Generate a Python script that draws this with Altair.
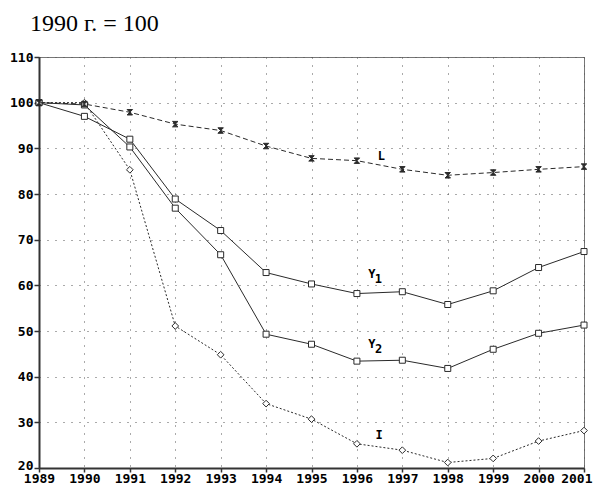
import altair as alt
import pandas as pd

years = list(range(1989, 2002))
series_L = [100, 99.7, 97.9, 95.3, 93.9, 90.5, 87.8, 87.3, 85.4, 84.1, 84.7, 85.4, 86.0]
series_Y1 = [100, 97.0, 92.0, 78.9, 72.0, 62.8, 60.3, 58.2, 58.6, 55.8, 58.8, 63.9, 67.4]
series_Y2 = [100, 99.5, 90.3, 76.9, 66.7, 49.3, 47.1, 43.4, 43.6, 41.8, 46.0, 49.5, 51.3]
series_I = [100, 100, 85.3, 51.1, 44.8, 34.1, 30.7, 25.3, 23.9, 21.2, 22.1, 25.9, 28.2]
y_ticks = list(range(20, 111, 10))

label_text = ["L", "Y", "1", "Y", "2", "I"]
label_year = [1996.54, 1996.33, 1996.47, 1996.33, 1996.48, 1996.49]
label_value = [88.4, 62.55, 61.4, 47.2, 46.0, 27.2]

rows = []
for name, vals in [("L", series_L), ("Y1", series_Y1), ("Y2", series_Y2), ("I", series_I)]:
    for yr, v in zip(years, vals):
        rows.append({"series": name, "year": yr, "value": v})
df = pd.DataFrame(rows)

x = alt.X("year:Q",
          scale=alt.Scale(domain=[1989, 2001], nice=False, zero=False),
          axis=alt.Axis(values=years, format="d", title=None, tickSize=4,
                        labelPadding=0, labelFlush=False, labelOverlap=False,
                        labelAlign={"condition": {"test": "datum.value == 2001", "value": "right"},
                                    "value": "center"},
                        labelOffset={"condition": {"test": "datum.value == 2001", "value": 8},
                                     "value": 0}))
y = alt.Y("value:Q",
          scale=alt.Scale(domain=[20, 110], nice=False, zero=False),
          axis=alt.Axis(values=y_ticks, title=None, tickSize=5, labelPadding=1,
                        labelOffset={"condition": {"test": "datum.value == 20", "value": -3},
                                     "value": 0}))

base = alt.Chart(df)
ink = "#2a2a2a"


def series_layers(name, shape, size, dash=None, filled_dark=False):
    sub = base.transform_filter(alt.datum.series == name)
    line_kwargs = dict(color=ink, strokeWidth=1)
    if dash is not None:
        line_kwargs["strokeDash"] = dash
    line = sub.mark_line(**line_kwargs).encode(x=x, y=y)
    pts = sub.mark_point(shape=shape, size=size, filled=True,
                         fill=(ink if filled_dark else "white"), stroke=ink,
                         strokeWidth=1, opacity=1, fillOpacity=1).encode(x=x, y=y)
    return [line, pts]


hourglass = "M-1,-1L1,-1L-1,1L1,1Z"
layers = []
layers += series_layers("I", "diamond", 45, dash=[2, 2])
layers += series_layers("Y2", "square", 36)
layers += series_layers("Y1", "square", 36)
layers += series_layers("L", hourglass, 30, dash=[5, 3], filled_dark=True)

labels_df = pd.DataFrame({"text": label_text, "year": label_year, "value": label_value})
labels = alt.Chart(labels_df).mark_text(
    font="DejaVu Sans Mono", fontWeight="bold", fontSize=12, color="black",
    align="center", baseline="middle"
).encode(x="year:Q", y="value:Q", text="text:N")

title_df = pd.DataFrame({"t": ["1990 г. = 100"]})
title = alt.Chart(title_df).mark_text(
    align="left", baseline="alphabetic", font="Liberation Serif",
    fontSize=24, color="black"
).encode(x=alt.value(-9), y=alt.value(-26), text="t:N")

chart = alt.layer(*layers, labels, title).properties(
    width=545, height=411,
    padding={"left": 31, "top": 49, "right": 9, "bottom": 16},
    autosize=alt.AutoSizeParams(type="none"),
    background="white",
).configure_view(
    stroke="#777", strokeWidth=1
).configure_axis(
    labelFont="DejaVu Sans Mono", labelFontWeight="bold", labelFontSize=13,
    labelColor="black", domainColor="#333", domainWidth=2,
    tickColor="#333", tickWidth=1.5,
    grid=True, gridColor="#555", gridDash=[1, 7], gridWidth=1, gridOpacity=1,
)

chart.save("out.html", embed_options={"renderer": "svg", "actions": False})
